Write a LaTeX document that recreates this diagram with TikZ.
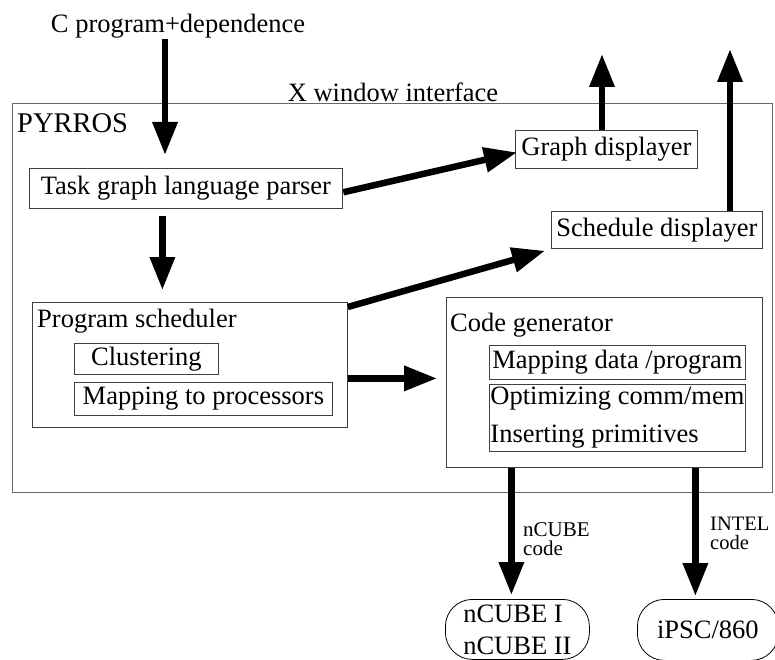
\documentclass[tikz,border=0pt]{standalone}
\usepackage{fontspec}
\setmainfont{Liberation Serif}
\usetikzlibrary{arrows.meta}

\begin{document}
\begin{tikzpicture}[
  x=1pt, y=-1pt,
  box/.style={rectangle, draw=black!75, line width=0.8pt, inner sep=0pt, anchor=north west, font=\fontsize{26.5}{30}\selectfont},
  txt/.style={inner sep=0pt, font=\fontsize{26.5}{30}\selectfont},
  lbl/.style={inner sep=0pt, anchor=north west, align=left, font=\fontsize{21}{19}\selectfont},
  oval/.style={rectangle, rounded corners=27pt, draw=black, line width=0.8pt, inner sep=0pt, anchor=north west, align=left, font=\fontsize{26.5}{32}\selectfont},
  arr/.style={line width=6.5pt, -{Triangle[length=33pt, width=24pt]}}
]
\useasboundingbox (0,0) rectangle (775,660);

% --- Outer frame ---
\node[box, draw=black!60, line width=1pt, minimum width=760pt, minimum height=389pt] (pyrros) at (12,103) {};
\node[txt, anchor=base west, font=\fontsize{28.5}{32}\selectfont] (pyrrostxt) at (17,133) {PYRROS};
\node[txt, anchor=base] (xwin) at (393,102) {X window interface};
\node[txt, anchor=base] (ctext) at (178,33) {C program+dependence};

% --- Nodes ---
\node[box, minimum width=313pt, minimum height=40pt] (task) at (29,168) {Task graph language parser};
\node[box, minimum width=182pt, minimum height=38pt] (graph) at (515,130) {Graph displayer};
\node[box, minimum width=211pt, minimum height=37pt] (sched) at (551,211) {Schedule displayer};

\node[box, minimum width=315pt, minimum height=125pt] (prog) at (32,302) {};
\node[txt, anchor=base west] (progtxt) at (37,327) {Program scheduler};
\node[box, minimum width=144pt, minimum height=31pt] (clust) at (74,343) {Clustering};
\node[box, minimum width=258pt, minimum height=33pt] (mapproc) at (74,382) {Mapping to processors};

\node[box, minimum width=316pt, minimum height=170pt] (codegen) at (446,297) {};
\node[txt, anchor=base west] (codegentxt) at (450,331) {Code generator};
\node[box, minimum width=256pt, minimum height=34pt] (mapdata) at (489,345) {Mapping data /program};
\node[box, minimum width=256pt, minimum height=67pt, align=left, font=\fontsize{26.5}{38}\selectfont] (optim) at (489,384) {Optimizing comm/mem\\Inserting primitives};

\node[oval, minimum width=144pt, minimum height=60pt] (ncube) at (445,599) {nCUBE I\\nCUBE II};
\node[oval, align=center, minimum width=141pt, minimum height=61pt] (ipsc) at (637,599) {iPSC/860};

\node[lbl] (ncubelbl) at (523,522) {nCUBE\\code};
\node[lbl, font=\fontsize{20.5}{19}\selectfont] (intellbl) at (710,517) {INTEL\\code};

\coordinate (gout) at (602,54);
\coordinate (sout) at (730,49);

% --- Arrows ---
\draw[arr, shorten >=13pt] ([xshift=-13pt]ctext.south) -- ([xshift=-13pt]ctext.south |- task.north);
\draw[arr, shorten <=7pt, shorten >=12pt] ([xshift=-23.5pt]task.south) -- ([xshift=-27.5pt]prog.north);
\draw[arr, shorten <=0.5pt] ([yshift=-4pt]task.east) -- ([xshift=2pt, yshift=-3pt]graph.west);
\draw[arr] ([yshift=-5pt]prog.north east) -- ([xshift=-6pt, yshift=-2pt]sched.south west);
\draw[arr, shorten >=9pt] ([yshift=-13.5pt]prog.east) -- ([yshift=-13.5pt]prog.east -| codegen.west);
\draw[arr] (graph.north -| gout) -- (gout);
\draw[arr] (sched.north -| sout) -- (sout);
\draw[arr, shorten >=4pt] ([xshift=-93pt]codegen.south) -- ([xshift=-6pt]ncube.north);
\draw[arr, shorten >=3pt] ([xshift=91pt]codegen.south) -- ([xshift=-12.5pt]ipsc.north);

\end{tikzpicture}
\end{document}
